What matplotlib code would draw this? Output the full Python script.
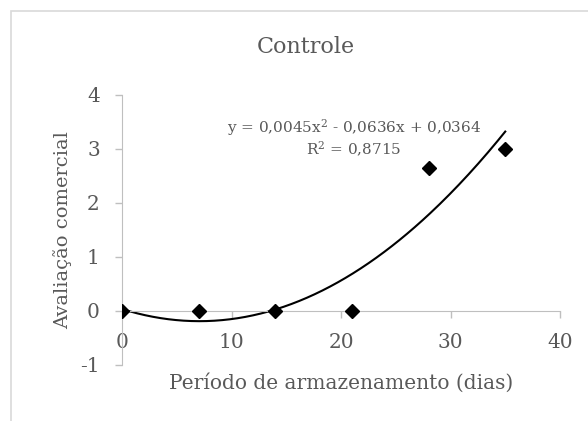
import matplotlib.pyplot as plt
import numpy as np
from matplotlib.patches import Rectangle

# dados
dias = [0, 7, 14, 21, 28, 35]
avaliacao = [0, 0, 0, 0, 2.65, 3.0]
coef = [0.0045, -0.0636, 0.0364]  # linha de tendencia polinomial (Excel)
equacao = 'y = 0,0045x$^2$ - 0,0636x + 0,0364'
r2_txt = 'R$^2$ = 0,8715'
xticks = [0, 10, 20, 30, 40]
yticks = [-1, 0, 1, 2, 3, 4]

plt.rcParams['font.family'] = ['DejaVu Serif']
plt.rcParams['mathtext.fontset'] = 'dejavuserif'
cinza = '#595959'
eixo = '#bfbfbf'

fig = plt.figure(figsize=(5.88, 4.21), dpi=100)
fig.patches.append(Rectangle((10.5/588, -0.1), 1.1, 1 - 10.5/421 + 0.1, transform=fig.transFigure,
                             fill=False, edgecolor='#d9d9d9', lw=1.2))
ax = fig.add_axes([122/588, 1 - 365/421, 438/588, 270/421])

xs = np.linspace(0, 35, 200)
ax.plot(xs, np.polyval(coef, xs), color='black', lw=1.5, zorder=2)
ax.plot(dias, avaliacao, 'D', color='black', ms=7, zorder=3)

ax.set_xlim(0, 40)
ax.set_ylim(-1, 4)
ax.set_xticks(xticks)
ax.set_yticks(yticks)
ax.set_yticklabels([str(v) for v in yticks])

for s in ['top', 'right']:
    ax.spines[s].set_visible(False)
ax.spines['bottom'].set_position(('data', 0))
ax.spines['bottom'].set_color(eixo)
ax.spines['left'].set_color(eixo)
ax.tick_params(axis='both', colors=eixo, labelcolor=cinza, labelsize=14.5, length=5, width=1)
ax.tick_params(axis='x', pad=11)
ax.tick_params(axis='y', pad=11)

fig.text(306/588, 1 - 47/421, 'Controle', fontsize=16, color=cinza, ha='center', va='center')
ax.set_xlabel('Período de armazenamento (dias)', fontsize=14.5, color=cinza)
ax.xaxis.set_label_coords(0.5, -0.03)
ax.set_ylabel('Avaliação comercial', fontsize=14, color=cinza)
ax.yaxis.set_label_coords(-0.115, 0.5)

ax.text(21.2, 3.39, equacao, fontsize=11, color=cinza, ha='center', va='center')
ax.text(21.2, 3.0, r2_txt, fontsize=11, color=cinza, ha='center', va='center')

fig.savefig('out.png', dpi=100)
